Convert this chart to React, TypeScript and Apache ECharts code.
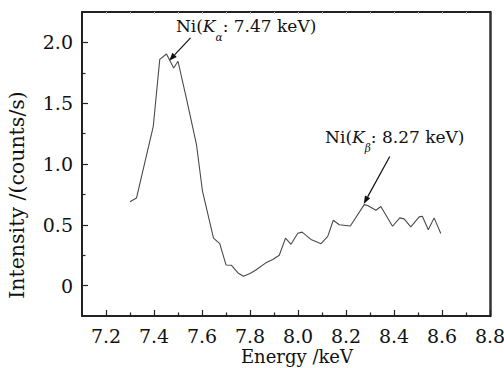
import React, { useEffect, useRef } from 'react';
import * as echarts from 'echarts';

// Spectrum data (energy in keV, intensity in counts/s)
const energy = [
  7.3, 7.327, 7.397, 7.424, 7.452, 7.482, 7.5, 7.535, 7.577, 7.602,
  7.648, 7.674, 7.7, 7.723, 7.75, 7.773, 7.8, 7.826, 7.866, 7.895,
  7.922, 7.948, 7.971, 7.999, 8.017, 8.054, 8.096, 8.124, 8.147, 8.172,
  8.218, 8.276, 8.29, 8.325, 8.345, 8.394, 8.424, 8.442, 8.47, 8.505,
  8.518, 8.543, 8.567, 8.595,
];
const intensity = [
  0.69, 0.72, 1.31, 1.86, 1.905, 1.79, 1.845, 1.54, 1.16, 0.776,
  0.39, 0.345, 0.17, 0.167, 0.104, 0.077, 0.1, 0.13, 0.187, 0.215,
  0.25, 0.39, 0.34, 0.43, 0.44, 0.38, 0.345, 0.405, 0.537, 0.5,
  0.49, 0.666, 0.658, 0.62, 0.65, 0.488, 0.557, 0.549, 0.483, 0.565,
  0.57, 0.46, 0.557, 0.428,
];

// Axis ticks
const xMajorTicks = [7.2, 7.4, 7.6, 7.8, 8.0, 8.2, 8.4, 8.6, 8.8];
const xMinorTicks = [7.3, 7.5, 7.7, 7.9, 8.1, 8.3, 8.5, 8.7];
const xTopTicks = [7.2, 7.3, 7.4, 7.5, 7.6, 7.7, 7.8, 7.9, 8.0, 8.1, 8.2, 8.3, 8.4, 8.5, 8.6, 8.7];
const yMajorTicks = [0, 0.5, 1.0, 1.5, 2.0];
const yMinorTicks = [0.25, 0.75, 1.25, 1.75];

// Axis titles
const xTitle = 'Energy /keV';
const yTitle = 'Intensity /(counts/s)';

// Annotations: arrow tip (data coords), text
const annotTipEnergy = [7.463, 8.274];
const annotTipIntensity = [1.85, 0.672];
const annotSub = ['α', 'β'];
const annotValue = ['7.47 keV', '8.27 keV'];

const FONT = '"DejaVu Serif", "Liberation Serif", serif';
const AXIS_COLOR = '#222';
const TEXT_COLOR = '#111';

export default function App() {
  const ref = useRef<HTMLDivElement>(null);
  useEffect(() => {
    if (!ref.current) return;
    const chart = echarts.init(ref.current, null, { renderer: 'svg' });
    const lineStyle = { color: AXIS_COLOR, width: 1.2 };
    const option: any = {
      animation: false,
      backgroundColor: '#fff',
      grid: { left: 82, top: 12, right: 14, bottom: 52, containLabel: false, outerBoundsMode: 'none' },
      xAxis: [
        {
          type: 'value', min: 7.1, max: 8.8, position: 'bottom',
          axisLine: { onZero: false, lineStyle: { color: AXIS_COLOR, width: 2 } },
          axisTick: { inside: true, length: 6, customValues: xMajorTicks, lineStyle },
          axisLabel: {
            customValues: xMajorTicks, formatter: (v: number) => v.toFixed(1),
            fontFamily: FONT, fontSize: 19, color: TEXT_COLOR, margin: 10,
          },
          splitLine: { show: false },
        },
        {
          type: 'value', min: 7.1, max: 8.8, position: 'bottom',
          axisLine: { show: false, onZero: false },
          axisTick: { inside: true, length: 3.5, customValues: xMinorTicks, lineStyle },
          axisLabel: { show: false },
          splitLine: { show: false },
        },
        {
          type: 'value', min: 7.1, max: 8.8, position: 'top',
          axisLine: { onZero: false, lineStyle: { color: AXIS_COLOR, width: 2 } },
          axisTick: { inside: true, length: 2, customValues: xTopTicks, lineStyle: { color: '#bbb', width: 1 } },
          axisLabel: { show: false },
          splitLine: { show: false },
        },
      ],
      yAxis: [
        {
          type: 'value', min: -0.25, max: 2.25, position: 'left',
          axisLine: { onZero: false, lineStyle: { color: AXIS_COLOR, width: 2 } },
          axisTick: { inside: true, length: 6, customValues: yMajorTicks, lineStyle },
          axisLabel: {
            customValues: yMajorTicks, formatter: (v: number) => (v === 0 ? '0' : v.toFixed(1)),
            fontFamily: FONT, fontSize: 19, color: TEXT_COLOR, margin: 9,
          },
          splitLine: { show: false },
        },
        {
          type: 'value', min: -0.25, max: 2.25, position: 'left',
          axisLine: { show: false, onZero: false },
          axisTick: { inside: true, length: 3.5, customValues: yMinorTicks, lineStyle },
          axisLabel: { show: false },
          splitLine: { show: false },
        },
        {
          type: 'value', min: -0.25, max: 2.25, position: 'right',
          axisLine: { onZero: false, lineStyle: { color: '#333', width: 2.5 } },
          axisTick: { show: false },
          axisLabel: { show: false },
          splitLine: { show: false },
        },
      ],
      series: [
        {
          type: 'line',
          xAxisIndex: 0, yAxisIndex: 0,
          data: energy.map((e, i) => [e, intensity[i]]),
          symbol: 'none',
          lineStyle: { color: '#4a4a4a', width: 1.1 },
        },
      ],
    };
    chart.setOption(option);

    const textOffsets = [[77, -35], [31, -67]];
    const tailOffsets = [[21.4, -22.7], [26, -47.3]];
    const graphics: any[] = [
      {
        type: 'text', x: 17, y: 195, rotation: Math.PI / 2,
        style: {
          text: yTitle, fontFamily: FONT, fontSize: 20.5, fill: TEXT_COLOR,
          align: 'center', verticalAlign: 'middle',
        },
      },
      {
        type: 'text', x: 297, y: 356,
        style: {
          text: xTitle, fontFamily: FONT, fontSize: 18, fill: TEXT_COLOR,
          align: 'center', verticalAlign: 'middle',
        },
      },
    ];
    annotTipEnergy.forEach((e, i) => {
      const [tx, ty] = chart.convertToPixel({ xAxisIndex: 0, yAxisIndex: 0 }, [e, annotTipIntensity[i]]) as number[];
      const sx = tx + tailOffsets[i][0];
      const sy = ty + tailOffsets[i][1];
      const dx = tx - sx, dy = ty - sy;
      const len = Math.sqrt(dx * dx + dy * dy);
      const ux = dx / len, uy = dy / len;
      const hl = 8, hw = 3;
      const bx = tx - ux * hl, by = ty - uy * hl;
      graphics.push({
        type: 'line',
        shape: { x1: sx, y1: sy, x2: bx, y2: by },
        style: { stroke: '#111', lineWidth: 1.2 },
      });
      graphics.push({
        type: 'polygon',
        shape: { points: [[tx, ty], [bx - uy * hw, by + ux * hw], [bx + uy * hw, by - ux * hw]] },
        style: { fill: '#111' },
      });
      graphics.push({
        type: 'text',
        x: tx + textOffsets[i][0],
        y: ty + textOffsets[i][1],
        style: {
          text: `{n|Ni(}{k|K}{s|${annotSub[i]}}{n|: ${annotValue[i]})}`,
          align: 'center', verticalAlign: 'middle',
          rich: {
            n: { fontFamily: FONT, fontSize: 17, fill: TEXT_COLOR, lineHeight: 20 },
            k: { fontFamily: FONT, fontSize: 17, fontStyle: 'italic', fill: TEXT_COLOR, lineHeight: 20 },
            s: { fontFamily: FONT, fontSize: 10.5, fontStyle: 'italic', fill: TEXT_COLOR, lineHeight: 11, padding: [22, 0, 0, 0] },
          },
        },
      });
    });
    chart.setOption({ graphic: graphics });
    return () => chart.dispose();
  }, []);
  return <div ref={ref} style={{ position: 'fixed', left: 0, top: 0, width: 504, height: 368 }} />;
}
